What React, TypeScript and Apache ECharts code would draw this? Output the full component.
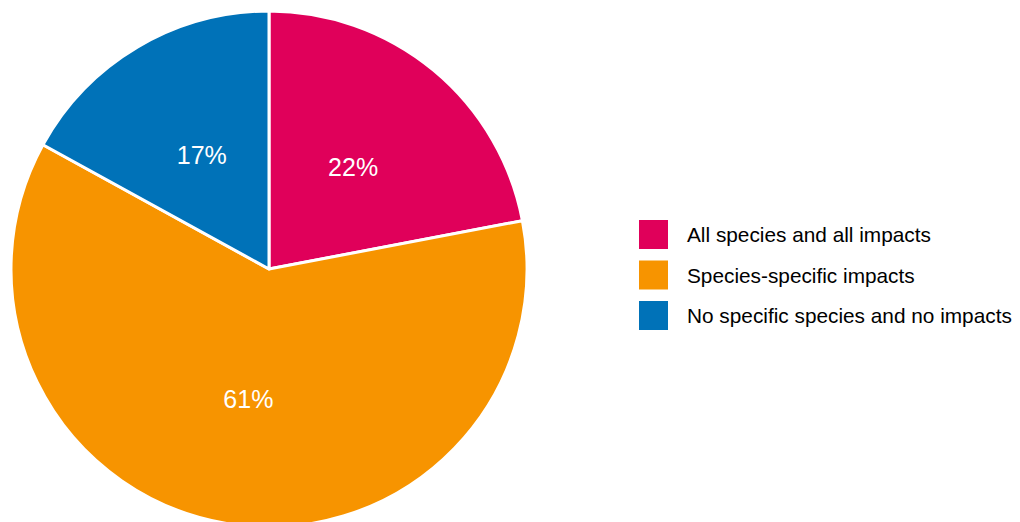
import React, { useEffect, useRef } from "react";
import * as echarts from "echarts";

const categories = ["All species and all impacts", "Species-specific impacts", "No specific species and no impacts"];
const values = [22, 61, 17];
const colors = ["#E0005A", "#F79400", "#0072B8"];

export default function App() {
  const ref = useRef<HTMLDivElement>(null);
  useEffect(() => {
    document.body.style.margin = "0";
    const chart = echarts.init(ref.current!, null, { renderer: "svg" });
    chart.setOption({
      animation: false,
      color: colors,
      legend: {
        orient: "vertical",
        left: 639,
        top: 220,
        padding: 0,
        itemWidth: 29,
        itemHeight: 29,
        itemGap: 11.5,
        icon: "rect",
        selectedMode: false,
        itemStyle: { borderWidth: 0 },
        textStyle: {
          fontFamily: "Liberation Sans, Arial, sans-serif",
          fontSize: 20.8,
          color: "#000",
          padding: [0, 0, 0, 14],
        },
        data: categories,
      },
      series: [
        {
          type: "pie",
          center: [269, 269],
          radius: 258,
          startAngle: 90,
          clockwise: true,
          itemStyle: { borderColor: "#fff", borderWidth: 3 },
          label: {
            show: true,
            position: "inside",
            formatter: "{c}%",
            color: "#fff",
            fontSize: 25,
            fontFamily: "Liberation Sans, Arial, sans-serif",
          },
          labelLine: { show: false },
          emphasis: { disabled: true },
          data: categories.map((name, i) => ({ name, value: values[i] })),
        },
      ],
    });
    return () => chart.dispose();
  }, []);
  return <div ref={ref} style={{ width: 1020, height: 522 }} />;
}
